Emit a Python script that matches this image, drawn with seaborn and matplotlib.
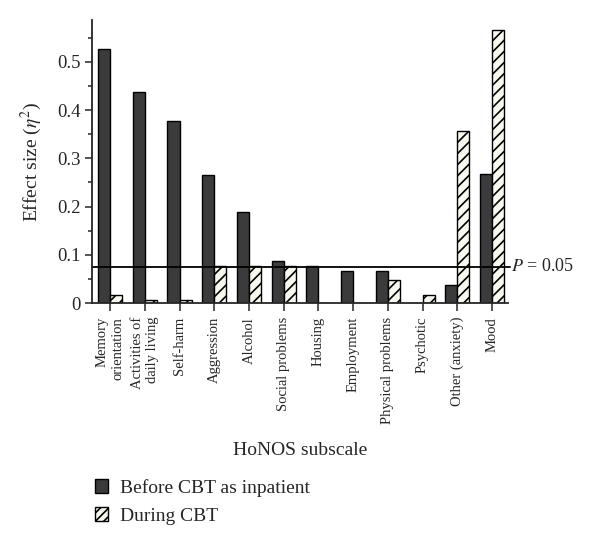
import numpy as np
import pandas as pd
import matplotlib
matplotlib.use("Agg")
import matplotlib.pyplot as plt
import matplotlib.patches as mpatches
import matplotlib.transforms as mtransforms
import seaborn as sns

## DATA ##
subscales = ["Memory\norientation", "Activities of\ndaily living", "Self-harm",
             "Aggression", "Alcohol", "Social problems", "Housing", "Employment",
             "Physical problems", "Psychotic", "Other (anxiety)", "Mood"]
before_cbt = [0.527, 0.438, 0.378, 0.266, 0.188, 0.087, 0.077, 0.067, 0.067, 0.0, 0.037, 0.267]
during_cbt = [0.017, 0.006, 0.006, 0.077, 0.077, 0.077, 0.0, 0.0, 0.047, 0.017, 0.357, 0.567]
groups = ["Before CBT as inpatient", "During CBT"]
p_line = 0.075

## STYLE ##
dark = "#3b3b3b"
light = "#f8f8ee"

sns.set_style("ticks")
plt.rcParams["font.family"] = ["Liberation Serif", "DejaVu Serif"]
plt.rcParams["mathtext.fontset"] = "stix"
plt.rcParams["hatch.linewidth"] = 1.2

df = pd.DataFrame({
    "subscale": subscales * 2,
    "effect": before_cbt + during_cbt,
    "group": [groups[0]] * len(subscales) + [groups[1]] * len(subscales),
})

fig = plt.figure(figsize=(6, 5.46), dpi=100)
ax = fig.add_axes([92 / 600, 1 - 303 / 546, 416 / 600, 283 / 546])

sns.barplot(data=df, x="subscale", y="effect", hue="group", order=subscales,
            hue_order=groups, palette=[dark, light], width=0.7, gap=0,
            edgecolor="black", linewidth=1.0, legend=False, ax=ax, errorbar=None)

# hatch the "During CBT" bars
n = len(subscales)
for i, bar in enumerate(ax.patches[:2 * n]):
    if i >= n:
        bar.set_hatch("///")
        bar.set_facecolor(light)

ax.set_xlim(-0.52, 11.46)
ax.set_ylim(0, 0.587)
ax.set_yticks([0, 0.1, 0.2, 0.3, 0.4, 0.5])
ax.set_yticklabels(["0", "0.1", "0.2", "0.3", "0.4", "0.5"])
ax.set_yticks(np.arange(0.05, 0.59, 0.1), minor=True)
ax.tick_params(axis="y", which="major", length=5, width=1.1, labelsize=13.5, pad=3)
ax.tick_params(axis="y", which="minor", length=3, width=1.1)
ax.tick_params(axis="x", which="major", length=6, width=1.1, labelsize=10.5, pad=4)
for lab in ax.get_xticklabels():
    lab.set_rotation(90)
    lab.set_va("top")
    lab.set_ha("center")
    lab.set_multialignment("right")

sns.despine(ax=ax)
for s in ["left", "bottom"]:
    ax.spines[s].set_linewidth(1.3)

ax.set_xlabel("HoNOS subscale", fontsize=14)
ax.xaxis.set_label_coords(0.5, -0.49)
ax.set_ylabel(r"Effect size ($\eta^2$)", fontsize=14)
ax.yaxis.set_label_coords(-0.115, 0.5)

# significance line
ax.axhline(p_line, xmin=0, xmax=1.005, color="black", lw=1.3, clip_on=False)
trans = mtransforms.blended_transform_factory(ax.transAxes, ax.transData)
ax.text(1.008, p_line, r"$P$ = 0.05", transform=trans, fontsize=13,
        ha="left", va="center")

handles = [mpatches.Patch(facecolor=dark, edgecolor="black", linewidth=1.0),
           mpatches.Patch(facecolor=light, edgecolor="black", linewidth=1.0, hatch="////")]
fig.legend(handles, groups, loc="upper left", bbox_to_anchor=(85 / 600, 1 - 469 / 546),
           frameon=False, fontsize=14, handlelength=0.7, handleheight=0.7,
           handletextpad=0.6, borderpad=0, labelspacing=0.55)

fig.savefig("out.png", dpi=100)
